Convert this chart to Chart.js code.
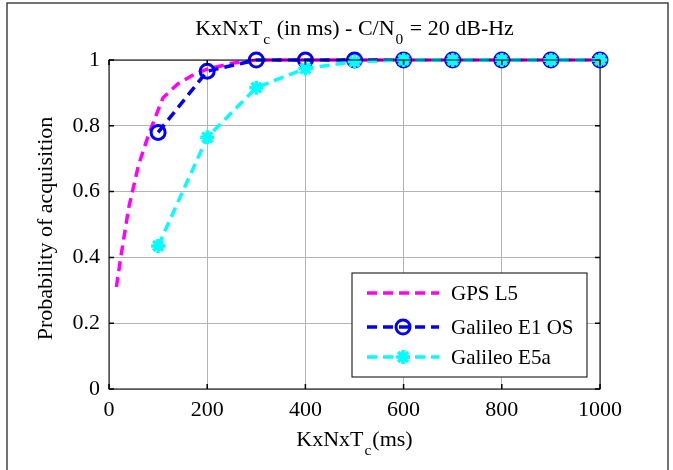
<!DOCTYPE html>
<html>
<head>
<meta charset="utf-8">
<title>Probability of acquisition</title>
<script src="https://cdn.jsdelivr.net/npm/chart.js@4.4.0/dist/chart.umd.min.js"></script>
<style>
  html, body { margin: 0; padding: 0; background: #fff; }
  #wrap { width: 673px; height: 470px; }
</style>
</head>
<body>
<div id="wrap"><canvas id="myChart" width="673" height="470"></canvas></div>
<script>
/* data */
var seriesNames = ["GPS L5", "Galileo E1 OS", "Galileo E5a"];

var gpsX = [15, 25, 40, 60, 80, 100, 110, 140, 175, 200, 250, 300, 400, 500, 600, 700, 800, 900, 1000];
var gpsY = [0.31, 0.41, 0.55, 0.68, 0.77, 0.848, 0.885, 0.927, 0.958, 0.972, 0.99, 1, 1, 1, 1, 1, 1, 1, 1];

var galX = [100, 200, 300, 400, 500, 600, 700, 800, 900, 1000];
var e1Y  = [0.78, 0.966, 1, 1, 1, 1, 1, 1, 1, 1];
var e5aY = [0.435, 0.765, 0.916, 0.974, 0.995, 1, 1, 1, 1, 1];

var xTicks = [0, 200, 400, 600, 800, 1000];
var yTicks = [0, 0.2, 0.4, 0.6, 0.8, 1];

/* titles, with subscripts as separate parts */
var titleParts = [["KxNxT"], ["c", 1], [" (in ms) - C/N"], ["0", 1], [" = 20 dB-Hz"]];
var xTitleParts = [["KxNxT"], ["c", 1], ["(ms)"]];
var yTitle = "Probability of acquisition";

var FONT = "'Liberation Serif', 'Times New Roman', serif";

function toPoints(xs, ys) {
  var pts = [];
  for (var i = 0; i < xs.length; i++) {
    pts.push({ x: xs[i], y: ys[i] });
  }
  return pts;
}

function drawParts(ctx, parts, cx, baseY, size) {
  var i, w = 0;
  for (i = 0; i < parts.length; i++) {
    ctx.font = (parts[i][1] ? size * 0.7 : size) + "px " + FONT;
    w += ctx.measureText(parts[i][0]).width + (parts[i][1] ? 2 : 0);
  }
  var x = cx - w / 2;
  ctx.textAlign = "left";
  ctx.textBaseline = "alphabetic";
  for (i = 0; i < parts.length; i++) {
    var sub = parts[i][1];
    ctx.font = (sub ? size * 0.7 : size) + "px " + FONT;
    if (sub) x += 1;
    ctx.fillText(parts[i][0], x, baseY + (sub ? size * 0.42 : 0));
    x += ctx.measureText(parts[i][0]).width + (sub ? 1 : 0);
  }
}

function drawMarker(ctx, style, x, y, r, color, lw) {
  ctx.save();
  ctx.setLineDash([]);
  ctx.strokeStyle = color;
  ctx.lineWidth = lw;
  ctx.beginPath();
  if (style === "circle") {
    ctx.arc(x, y, r, 0, Math.PI * 2);
  } else if (style === "star") {
    var d = r * 0.707;
    ctx.moveTo(x - r, y); ctx.lineTo(x + r, y);
    ctx.moveTo(x, y - r); ctx.lineTo(x, y + r);
    ctx.moveTo(x - d, y - d); ctx.lineTo(x + d, y + d);
    ctx.moveTo(x - d, y + d); ctx.lineTo(x + d, y - d);
  }
  ctx.stroke();
  ctx.restore();
}

/* frame, axes box, inward ticks, titles, legend */
var decorPlugin = {
  id: "decor",
  beforeDraw: function(chart) {
    var ctx = chart.ctx;
    ctx.save();
    ctx.fillStyle = "#fff";
    ctx.fillRect(0, 0, chart.width, chart.height);
    ctx.strokeStyle = "#444";
    ctx.lineWidth = 1.5;
    ctx.strokeRect(7, 3, chart.width - 12, chart.height + 10);
    ctx.restore();
  },
  afterDraw: function(chart) {
    var ctx = chart.ctx;
    var a = chart.chartArea;
    var xs = chart.scales.x, ys = chart.scales.y;
    var i, p;

    ctx.save();
    ctx.strokeStyle = "#000";
    ctx.lineWidth = 1;
    ctx.setLineDash([]);
    ctx.strokeRect(a.left, a.top, a.right - a.left, a.bottom - a.top);

    ctx.lineWidth = 1.5;
    ctx.beginPath();
    for (i = 0; i < xTicks.length; i++) {
      p = xs.getPixelForValue(xTicks[i]);
      ctx.moveTo(p, a.bottom); ctx.lineTo(p, a.bottom - 5);
      ctx.moveTo(p, a.top); ctx.lineTo(p, a.top + 5);
    }
    for (i = 0; i < yTicks.length; i++) {
      p = ys.getPixelForValue(yTicks[i]);
      ctx.moveTo(a.left, p); ctx.lineTo(a.left + 5, p);
      ctx.moveTo(a.right, p); ctx.lineTo(a.right - 5, p);
    }
    ctx.stroke();

    ctx.fillStyle = "#000";
    var cx = (a.left + a.right) / 2;
    drawParts(ctx, titleParts, cx, 35, 22);
    drawParts(ctx, xTitleParts, cx, 446, 22);

    ctx.save();
    ctx.translate(46, (a.top + a.bottom) / 2 + 4);
    ctx.rotate(-Math.PI / 2);
    ctx.font = "22px " + FONT;
    ctx.textAlign = "center";
    ctx.textBaseline = "middle";
    ctx.fillText(yTitle, 0, 0);
    ctx.restore();

    /* legend box inside the axes, lower right */
    var lw = 235, lh = 104;
    var lx = a.right - 13 - lw, ly = a.bottom - 12 - lh;
    ctx.fillStyle = "#fff";
    ctx.fillRect(lx, ly, lw, lh);
    ctx.strokeStyle = "#000";
    ctx.lineWidth = 1;
    ctx.strokeRect(lx, ly, lw, lh);
    var rows = [20, 54, 84];
    var dsets = chart.data.datasets;
    for (i = 0; i < dsets.length; i++) {
      var ds = dsets[i];
      var ry = ly + rows[i];
      ctx.strokeStyle = ds.borderColor;
      ctx.lineWidth = ds.borderWidth;
      ctx.setLineDash(ds.borderDash);
      ctx.beginPath();
      ctx.moveTo(lx + 15, ry);
      ctx.lineTo(lx + 87, ry);
      ctx.stroke();
      if (ds.pointRadius > 0) {
        drawMarker(ctx, ds.pointStyle, lx + 51, ry, ds.pointRadius, ds.borderColor, ds.pointBorderWidth);
      }
      ctx.setLineDash([]);
      ctx.fillStyle = "#000";
      ctx.font = "21px " + FONT;
      ctx.textAlign = "left";
      ctx.textBaseline = "middle";
      ctx.fillText(ds.label, lx + 99, ry + 1);
    }
    ctx.restore();
  }
};

var canvas = document.getElementById("myChart");
var chart = new Chart(canvas, {
  type: "line",
  data: {
    datasets: [
      {
        label: seriesNames[0],
        data: toPoints(gpsX, gpsY),
        borderColor: "#ff00ff",
        borderWidth: 3.5,
        borderDash: [10, 6],
        pointRadius: 0,
        fill: false,
        clip: false,
        order: 3
      },
      {
        label: seriesNames[1],
        data: toPoints(galX, e1Y),
        borderColor: "#0000ff",
        borderWidth: 3.5,
        borderDash: [10, 6],
        pointStyle: "circle",
        pointRadius: 7,
        pointBorderWidth: 3,
        pointBorderColor: "#0000ff",
        pointBackgroundColor: "rgba(0,0,0,0)",
        fill: false,
        clip: false,
        order: 2
      },
      {
        label: seriesNames[2],
        data: toPoints(galX, e5aY),
        borderColor: "#00ffff",
        borderWidth: 3.5,
        borderDash: [10, 6],
        pointStyle: "star",
        pointRadius: 7,
        pointBorderWidth: 3.5,
        pointBorderColor: "#00ffff",
        pointBackgroundColor: "#00ffff",
        fill: false,
        clip: false,
        order: 1
      }
    ]
  },
  options: {
    responsive: false,
    animation: false,
    layout: { padding: { left: 0, top: 60, right: 73, bottom: 0 } },
    plugins: {
      legend: { display: false },
      title: { display: false },
      tooltip: { enabled: false }
    },
    scales: {
      x: {
        type: "linear",
        min: 0,
        max: 1000,
        afterBuildTicks: function(scale) {
          scale.ticks = xTicks.map(function(v) { return { value: v }; });
        },
        afterFit: function(scale) { scale.height = 81; },
        grid: { color: "#b4b4b4", lineWidth: 1, drawTicks: false },
        border: { display: false },
        ticks: {
          padding: 8,
          color: "#000",
          font: { family: FONT, size: 22 },
          callback: function(v) { return String(v); }
        }
      },
      y: {
        type: "linear",
        min: 0,
        max: 1,
        afterBuildTicks: function(scale) {
          scale.ticks = yTicks.map(function(v) { return { value: v }; });
        },
        afterFit: function(scale) { scale.width = 109; },
        grid: { color: "#b4b4b4", lineWidth: 1, drawTicks: false },
        border: { display: false },
        ticks: {
          padding: 9,
          color: "#000",
          font: { family: FONT, size: 22 },
          callback: function(v) { return String(v); }
        }
      }
    }
  },
  plugins: [decorPlugin]
});
</script>
</body>
</html>
